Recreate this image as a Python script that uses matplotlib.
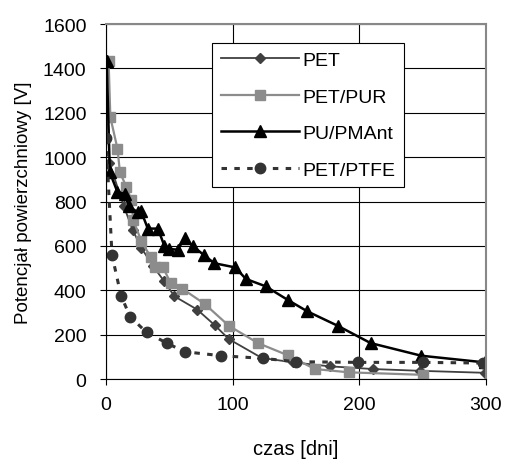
import matplotlib
matplotlib.use("Agg")
import matplotlib.pyplot as plt

# PET
pet_x = [0, 2.6, 14, 21, 28, 37, 46, 54, 72, 86, 97, 123, 148, 177, 211, 248, 299]
pet_y = [1440, 975, 780, 672, 590, 510, 440, 373, 313, 242, 180, 95, 75, 57, 45, 37, 28]

# PET/PUR
pur_x = [2, 3.4, 9, 11, 16, 20, 21.5, 28, 35.5, 39, 45, 51, 60, 78, 97, 120, 144, 165, 192, 250]
pur_y = [1435, 1180, 1039, 931, 867, 806, 716, 620, 548, 503, 503, 433, 408, 338, 240, 162, 106, 45, 30, 19]

# PU/PMAnt
pma_x = [0.5, 3, 9, 15, 18, 25, 27.6, 33, 41, 46, 50, 56.6, 62, 68.4, 77, 85.5, 102, 110.5, 126, 144, 159, 183, 209, 249, 299]
pma_y = [1435, 931, 843, 834, 778, 752, 758, 678, 678, 601, 586, 583, 634, 600, 560, 522, 503, 451, 418, 355, 305, 240, 162, 105, 75]

# PET/PTFE
ptfe_x = [0, 4.7, 11.8, 19, 32, 48, 62, 91, 124, 150, 199, 250, 298]
ptfe_y = [1085, 559, 376, 281, 210, 162, 123, 105, 93, 78, 75, 75, 72]

plt.rcParams.update({'font.size': 14, 'font.family': 'Liberation Sans'})

fig = plt.figure(figsize=(5.05, 4.64), dpi=100)
ax = fig.add_axes([0.210, 0.181, 0.752, 0.765])

ax.plot(pet_x, pet_y, color='#404040', lw=1.3, marker='D', ms=5.5, label='PET')
ax.plot(pur_x, pur_y, color='#8c8c8c', lw=1.6, marker='s', ms=7.5, label='PET/PUR')
ax.plot(pma_x, pma_y, color='black', lw=1.8, marker='^', ms=8, label='PU/PMAnt')
ax.plot(ptfe_x, ptfe_y, color='#333333', lw=2.2, ls=(0, (1.8, 2.4)), marker='o', ms=7.5, label='PET/PTFE')

ax.set_xlim(0, 300)
ax.set_ylim(0, 1600)
ax.set_xticks([0, 100, 200, 300])
ax.set_yticks(range(0, 1601, 200))
ax.grid(True, color='black', lw=0.8)
ax.set_axisbelow(True)
ax.tick_params(direction='out', length=4, color='black', labelsize=14)
ax.tick_params(axis='y', pad=10)
ax.tick_params(axis='x', pad=8)

for s in ['top', 'right']:
    ax.spines[s].set_color('#888888')
    ax.spines[s].set_linewidth(1.5)
for s in ['left', 'bottom']:
    ax.spines[s].set_color('black')

ax.set_xlabel('czas [dni]', fontsize=14.5, labelpad=19)
ax.set_ylabel('Potencjał powierzchniowy [V]', fontsize=13.5, labelpad=8)

leg = ax.legend(loc='upper left', bbox_to_anchor=(0.279, 0.947), fontsize=14,
                handlelength=4.0, numpoints=1, labelspacing=0.97, fancybox=False,
                framealpha=1, edgecolor='black', borderpad=0.45, borderaxespad=0,
                handletextpad=0.2)
leg.get_frame().set_linewidth(0.8)

plt.savefig('out.png', dpi=100)
